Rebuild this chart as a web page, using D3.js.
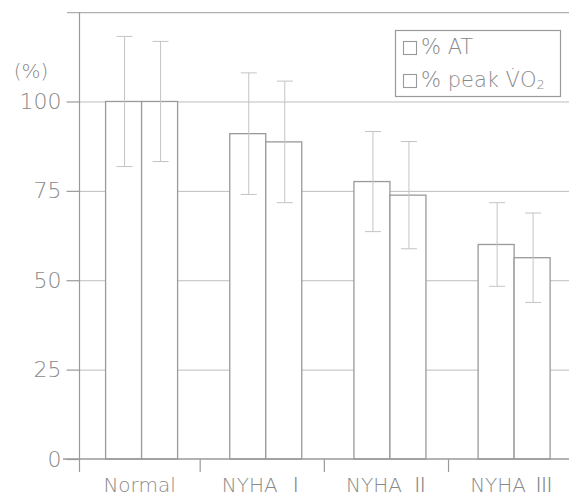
<!DOCTYPE html>
<html>
<head>
<meta charset="utf-8">
<script src="https://cdn.jsdelivr.net/npm/d3@7/dist/d3.min.js"></script>
<style>
  html, body { margin: 0; padding: 0; background: #fff; }
  svg { display: block; }
  text { font-family: "DejaVu Sans", "Noto Sans", sans-serif; font-weight: 200; fill: #8a8a8a; }
  .roman { font-family: "Noto Sans CJK JP", "DejaVu Sans", sans-serif; font-weight: 300; }
</style>
</head>
<body>
<svg id="chart" width="569" height="498"></svg>
<script>
// Groups along the x axis
const categories = ["Normal", "NYHA Ⅰ", "NYHA Ⅱ", "NYHA Ⅲ"];
const seriesNames = ["% AT", "% peak VO2"];

// Mean values (% of normal) and standard deviations
const atMean   = [100, 91.0, 77.6, 60.0];
const atSD     = [18.2, 17.0, 14.0, 11.7];
const vo2Mean  = [100, 88.7, 73.8, 56.3];
const vo2SD    = [16.8, 17.0, 15.0, 12.5];

// Axis ticks
const yTicks = [0, 25, 50, 75, 100];
const yTop = 125;

const svg = d3.select("#chart");
const W = 569;

const y = d3.scaleLinear().domain([0, yTop]).range([459, 12.1]);
const x = d3.scaleBand().domain(categories).range([79.5, 576.2]);
const barW = 36;
const xs = d3.scaleBand().domain(seriesNames)
  .range([(x.bandwidth() - 2 * barW) / 2, (x.bandwidth() + 2 * barW) / 2]);

const rows = categories.map((c, i) => ({
  cat: c,
  vals: [
    { s: seriesNames[0], m: atMean[i], sd: atSD[i] },
    { s: seriesNames[1], m: vo2Mean[i], sd: vo2SD[i] }
  ]
}));

// Horizontal grid lines
svg.append("g").selectAll("line")
  .data(yTicks.filter(t => t > 0))
  .join("line")
  .attr("x1", x.range()[0]).attr("x2", W)
  .attr("y1", d => y(d) + 0.5).attr("y2", d => y(d) + 0.5)
  .attr("stroke", "#bdbdbd").attr("stroke-width", 1);

// Frame line across the top of the plot
svg.append("line")
  .attr("x1", 67).attr("x2", W)
  .attr("y1", y(yTop) + 0.5).attr("y2", y(yTop) + 0.5)
  .attr("stroke", "#b0b0b0").attr("stroke-width", 1.2);

// Bars
const groups = svg.append("g").selectAll("g")
  .data(rows).join("g")
  .attr("transform", d => `translate(${x(d.cat)},0)`);

groups.selectAll("rect")
  .data(d => d.vals).join("rect")
  .attr("x", d => xs(d.s))
  .attr("y", d => y(d.m))
  .attr("width", xs.bandwidth())
  .attr("height", d => y(0) - y(d.m))
  .attr("fill", "#fff")
  .attr("stroke", "#9a9a9a")
  .attr("stroke-width", 1.3);

// Error bars (mean ± SD)
const capW = 16;
const eb = groups.selectAll("g.err")
  .data(d => d.vals).join("g").attr("class", "err")
  .attr("stroke", "#c4c4c4").attr("stroke-width", 1);
eb.append("line")
  .attr("x1", d => xs(d.s) + xs.bandwidth() / 2 + 1)
  .attr("x2", d => xs(d.s) + xs.bandwidth() / 2 + 1)
  .attr("y1", d => y(d.m + d.sd)).attr("y2", d => y(d.m - d.sd));
eb.append("line")
  .attr("x1", d => xs(d.s) + xs.bandwidth() / 2 + 1 - capW / 2)
  .attr("x2", d => xs(d.s) + xs.bandwidth() / 2 + 1 + capW / 2)
  .attr("y1", d => y(d.m + d.sd)).attr("y2", d => y(d.m + d.sd));
eb.append("line")
  .attr("x1", d => xs(d.s) + xs.bandwidth() / 2 + 1 - capW / 2)
  .attr("x2", d => xs(d.s) + xs.bandwidth() / 2 + 1 + capW / 2)
  .attr("y1", d => y(d.m - d.sd)).attr("y2", d => y(d.m - d.sd));

// Y axis
const yAxis = svg.append("g")
  .attr("transform", `translate(${x.range()[0]},0)`)
  .call(d3.axisLeft(y).tickValues(yTicks).tickSize(13).tickPadding(5).tickSizeOuter(0));
yAxis.select(".domain").remove();
yAxis.selectAll(".tick line").attr("stroke", "#9a9a9a").attr("stroke-width", 1.2);
yAxis.selectAll(".tick text")
  .attr("font-size", 22).attr("font-family", null).attr("fill", "#8a8a8a");
yAxis.attr("font-family", null);
yAxis.append("line")
  .attr("x1", 0).attr("x2", 0)
  .attr("y1", y(yTop)).attr("y2", y(0) + 13)
  .attr("stroke", "#9a9a9a").attr("stroke-width", 1.2);

svg.append("text")
  .attr("x", 31).attr("y", 78)
  .attr("text-anchor", "middle")
  .attr("font-size", 20)
  .text("(%)");

// X axis baseline and group separators
svg.append("line")
  .attr("x1", 63).attr("x2", W)
  .attr("y1", y(0)).attr("y2", y(0))
  .attr("stroke", "#9a9a9a").attr("stroke-width", 1.3);
const tickShift = -3.5;
svg.append("g").selectAll("line")
  .data(categories.slice(1))
  .join("line")
  .attr("x1", d => x(d) + tickShift).attr("x2", d => x(d) + tickShift)
  .attr("y1", y(0)).attr("y2", y(0) + 13)
  .attr("stroke", "#9a9a9a").attr("stroke-width", 1.2);

// Category labels
const labels = svg.append("g").selectAll("text")
  .data(categories).join("text")
  .attr("x", d => x(d) + x.bandwidth() / 2 - 2)
  .attr("y", 492)
  .attr("text-anchor", "middle")
  .attr("font-size", 20);
labels.each(function(d) {
  const t = d3.select(this);
  const parts = d.split(" ");
  t.append("tspan").text(parts[0]);
  if (parts[1]) {
    t.append("tspan").attr("class", "roman").attr("dx", 8).text(parts[1]);
  }
});

// Legend
const lg = svg.append("g");
lg.append("rect")
  .attr("x", 395.5).attr("y", 30.5).attr("width", 165).attr("height", 66)
  .attr("fill", "#fff").attr("stroke", "#9a9a9a").attr("stroke-width", 1.2);
const legendRows = [
  { y: 41, label: "% AT" },
  { y: 74, label: "% peak V", vo2: true }
];
legendRows.forEach(r => {
  lg.append("rect")
    .attr("x", 403.5).attr("y", r.y + 0.5).attr("width", 13).attr("height", 13)
    .attr("fill", "#fff").attr("stroke", "#9a9a9a").attr("stroke-width", 1.1);
  const t = lg.append("text")
    .attr("x", 421).attr("y", r.y + 12.5)
    .attr("font-size", 21);
  if (r.vo2) {
    t.append("tspan").text("% peak V\u0307O");
    t.append("tspan").attr("font-size", 13).attr("dy", 2).text("2");
  } else {
    t.text(r.label);
  }
});
</script>
</body>
</html>
